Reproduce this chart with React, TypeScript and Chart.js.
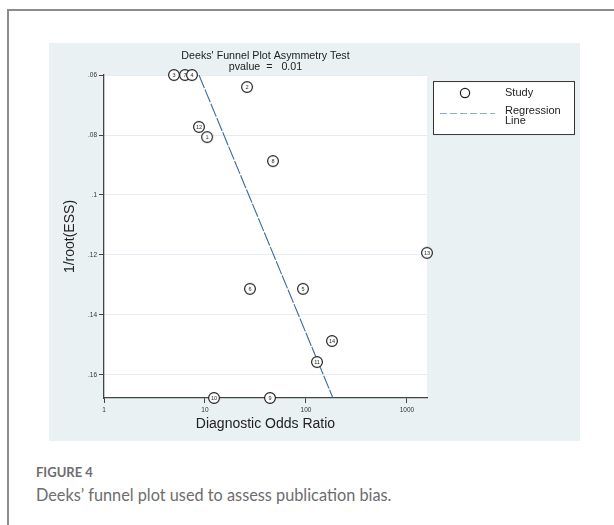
import React, { useEffect, useRef } from 'react';
import { Chart, registerables } from 'chart.js';

Chart.register(...registerables);

// Study identifiers, in drawing order (later markers sit on top of earlier ones)
const studyIds = ['3', '7', '4', '2', '12', '1', '8', '13', '6', '5', '14', '11', '10', '9'];
// Diagnostic odds ratio of each study
const diagnosticOR = [4.93, 6.34, 7.43, 26.1, 8.72, 10.5, 47.1, 1578, 27.9, 93.4, 180.9, 128.5, 12.3, 44.0];
// 1/root(effective sample size) of each study
const invRootESS = [0.06, 0.06, 0.06, 0.064, 0.0773, 0.0807, 0.0887, 0.1193, 0.1313, 0.1313, 0.1487, 0.1557, 0.1677, 0.1677];

// Fitted regression line end points
const regressionOR = [8.72, 185];
const regressionInvRootESS = [0.06, 0.1677];

const xTickValues = [1, 10, 100, 1000];
const xTickLabels = ['1', '10', '100', '1000'];
const yTickValues = [0.06, 0.08, 0.1, 0.12, 0.14, 0.16];
const yTickLabels = ['.06', '.08', '.1', '.12', '.14', '.16'];

const titleLines = ["Deeks' Funnel Plot Asymmetry Test", 'pvalue  =   0.01'];
const xTitle = 'Diagnostic Odds Ratio';
const yTitle = '1/root(ESS)';
const legendStudy = 'Study';
const legendRegression = ['Regression', 'Line'];

const FONT = '"Liberation Sans", Arial, sans-serif';
const LINE_BLUE = '#3a6a9e';

function makeMarker(label: string): HTMLCanvasElement {
  const c = document.createElement('canvas');
  c.width = 14;
  c.height = 14;
  const g = c.getContext('2d')!;
  g.beginPath();
  g.arc(7, 7, 5.4, 0, Math.PI * 2);
  g.fillStyle = '#ffffff';
  g.fill();
  g.lineWidth = 1.15;
  g.strokeStyle = '#1c1c1c';
  g.stroke();
  g.fillStyle = '#222';
  g.font = `5.5px ${FONT}`;
  g.textAlign = 'center';
  g.textBaseline = 'middle';
  g.fillText(label, 7, 7.4);
  return c;
}

const plotBackground = {
  id: 'plotBackground',
  beforeDraw(chart: any) {
    const { ctx, chartArea } = chart;
    ctx.save();
    ctx.fillStyle = '#ffffff';
    ctx.fillRect(chartArea.left, chartArea.top, chartArea.right - chartArea.left, chartArea.bottom - chartArea.top);
    ctx.restore();
  },
};

const studyLegend = {
  id: 'studyLegend',
  afterDraw(chart: any) {
    const { ctx, chartArea } = chart;
    const x0 = chartArea.right + 6;
    const y0 = chartArea.top + 6;
    ctx.save();
    ctx.fillStyle = '#ffffff';
    ctx.fillRect(x0, y0, 141, 53);
    ctx.strokeStyle = '#333';
    ctx.lineWidth = 1;
    ctx.strokeRect(x0 + 0.5, y0 + 0.5, 141, 53);

    ctx.beginPath();
    ctx.arc(x0 + 32, y0 + 12, 4.6, 0, Math.PI * 2);
    ctx.lineWidth = 1.2;
    ctx.strokeStyle = '#1c1c1c';
    ctx.stroke();

    ctx.beginPath();
    ctx.setLineDash([7, 3]);
    ctx.strokeStyle = '#8fa9c6';
    ctx.lineWidth = 1;
    ctx.moveTo(x0 + 7, y0 + 32.5);
    ctx.lineTo(x0 + 62, y0 + 32.5);
    ctx.stroke();
    ctx.setLineDash([]);

    ctx.fillStyle = '#222';
    ctx.font = `11px ${FONT}`;
    ctx.textAlign = 'left';
    ctx.textBaseline = 'middle';
    ctx.fillText(legendStudy, x0 + 72, y0 + 12);
    ctx.fillText(legendRegression[0], x0 + 72, y0 + 30);
    ctx.fillText(legendRegression[1], x0 + 72, y0 + 39.5);
    ctx.restore();
  },
};

export default function App() {
  const canvasRef = useRef<HTMLCanvasElement | null>(null);

  useEffect(() => {
    const canvas = canvasRef.current;
    if (!canvas) return;
    Chart.defaults.font.family = FONT;

    const markers = studyIds.map(makeMarker);
    const studyPoints = diagnosticOR.map((x, i) => ({ x, y: invRootESS[i] }));
    const regressionPoints = regressionOR.map((x, i) => ({ x, y: regressionInvRootESS[i] }));

    const chart = new Chart(canvas, {
      type: 'scatter',
      data: {
        datasets: [
          {
            label: legendRegression.join(' '),
            data: regressionPoints,
            showLine: true,
            borderColor: LINE_BLUE,
            borderWidth: 1.1,
            borderDash: [14, 1.5],
            pointRadius: 0,
            order: 2,
          },
          {
            label: legendStudy,
            data: studyPoints,
            pointStyle: markers as any,
            pointRadius: 6,
            clip: false as any,
            order: 1,
          },
        ],
      },
      options: {
        animation: false,
        responsive: false,
        events: [],
        layout: { padding: { left: 0, right: 153, top: 0, bottom: 0 } },
        plugins: {
          legend: { display: false },
          tooltip: { enabled: false },
          title: {
            display: true,
            fullSize: false,
            text: titleLines,
            color: '#222',
            font: { size: 10.7, weight: 'normal', lineHeight: 1.03 },
            padding: { top: 7.2, bottom: 2.8 },
          },
        },
        scales: {
          x: {
            type: 'logarithmic',
            min: 1,
            max: 1580,
            afterBuildTicks: (s: any) => {
              s.ticks = xTickValues.map((v) => ({ value: v }));
            },
            afterFit: (s: any) => {
              s.height = 43;
            },
            ticks: {
              callback: (v: any) => {
                const i = xTickValues.indexOf(Number(v));
                return i >= 0 ? xTickLabels[i] : '';
              },
              font: { size: 6.5 },
              color: '#333',
              padding: 3,
              maxRotation: 0,
              autoSkip: false,
            },
            grid: { drawOnChartArea: false, tickLength: 5, tickColor: '#444', tickWidth: 1 },
            border: { color: '#444', width: 1.3 },
            title: {
              display: true,
              text: xTitle,
              color: '#222',
              font: { size: 14, lineHeight: 1.2 },
              padding: { top: 0, bottom: 8.6 },
            },
          },
          y: {
            reverse: true,
            min: 0.06,
            max: 0.1677,
            afterBuildTicks: (s: any) => {
              s.ticks = yTickValues.map((v) => ({ value: v }));
            },
            afterFit: (s: any) => {
              s.width = 55;
            },
            ticks: {
              callback: (v: any) => {
                const i = yTickValues.findIndex((t) => Math.abs(t - Number(v)) < 1e-9);
                return i >= 0 ? yTickLabels[i] : '';
              },
              font: { size: 6.5 },
              color: '#333',
              padding: 2,
              autoSkip: false,
            },
            grid: { color: '#e3edf3', lineWidth: 1, tickLength: 5, tickColor: '#444', tickWidth: 1 },
            border: { color: '#444', width: 1.3 },
            title: {
              display: true,
              text: yTitle,
              color: '#222',
              font: { size: 14, lineHeight: 1.2 },
              padding: { top: 12.6, bottom: 0 },
            },
          },
        },
      },
      plugins: [plotBackground, studyLegend],
    });

    return () => chart.destroy();
  }, []);

  return (
    <div
      style={{
        position: 'absolute',
        left: 0,
        top: 0,
        width: 614,
        height: 525,
        overflow: 'hidden',
        background: '#ffffff',
      }}
    >
      <div
        style={{
          position: 'absolute',
          left: 7,
          top: 9,
          width: 700,
          height: 600,
          borderTop: '2px solid #8c8c8c',
          borderLeft: '2px solid #8c8c8c',
        }}
      />
      <div style={{ position: 'absolute', left: 49, top: 43, width: 531, height: 398, background: '#e9f1f3' }}>
        <canvas ref={canvasRef} width={531} height={398} style={{ display: 'block', width: 531, height: 398 }} />
      </div>
      <div
        style={{
          position: 'absolute',
          left: 36,
          top: 463,
          fontFamily: 'Lato, "Open Sans", sans-serif',
          fontWeight: 700,
          fontSize: 13,
          lineHeight: '18px',
          color: '#6d6d6d',
          whiteSpace: 'nowrap',
        }}
      >
        FIGURE 4
      </div>
      <div
        style={{
          position: 'absolute',
          left: 36,
          top: 485,
          fontFamily: 'Lato, "Open Sans", sans-serif',
          fontWeight: 400,
          fontSize: 16.3,
          lineHeight: '20px',
          color: '#6d6d6d',
          whiteSpace: 'nowrap',
        }}
      >
        Deeks&rsquo; funnel plot used to assess publication bias.
      </div>
    </div>
  );
}
